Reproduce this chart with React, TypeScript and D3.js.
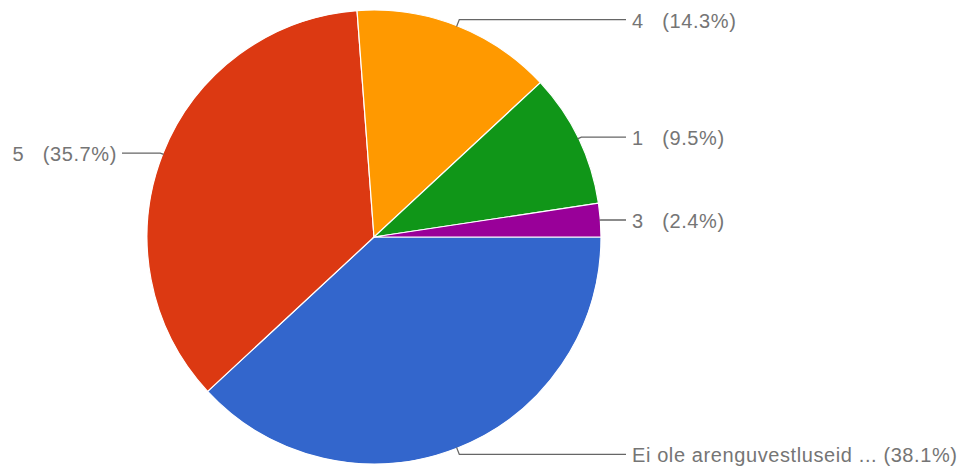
import React, { useEffect, useRef } from 'react';
import * as d3 from 'd3';

// survey answers, in the order the slices are drawn (clockwise from 3 o'clock)
const categories = ['Ei ole arenguvestluseid ...', '5', '4', '1', '3'];
const counts = [16, 15, 6, 4, 1];
const colors = ['#3366cc', '#dc3912', '#ff9900', '#109618', '#990099'];

const WIDTH = 972;
const HEIGHT = 472;

const App: React.FC = () => {
  const svgRef = useRef<SVGSVGElement>(null);

  useEffect(() => {
    if (!svgRef.current) return;
    const svg = d3.select(svgRef.current);
    svg.selectAll('*').remove();

    const cx = 374;
    const cy = 237;
    const r = 227;
    const total = d3.sum(counts);

    const pie = d3.pie<number>()
      .sort(null)
      .value(d => d)
      .startAngle(Math.PI / 2)
      .endAngle(Math.PI / 2 + 2 * Math.PI);

    const arcs = pie(counts);
    const arc = d3.arc<d3.PieArcDatum<number>>().innerRadius(0).outerRadius(r);

    const g = svg.append('g').attr('transform', `translate(${cx},${cy})`);

    g.selectAll('path.slice')
      .data(arcs)
      .enter()
      .append('path')
      .attr('class', 'slice')
      .attr('d', arc)
      .attr('fill', (_, i) => colors[i])
      .attr('stroke', '#ffffff')
      .attr('stroke-width', 1.2);

    // leader lines and labels
    const pct = d3.format('.1%');
    const labelGap = 252;

    arcs.forEach((a, i) => {
      const mid = (a.startAngle + a.endAngle) / 2;
      const sx = Math.sin(mid) * (r - 1);
      const sy = -Math.cos(mid) * (r - 1);
      const er = r + 7 * Math.abs(Math.cos(mid));
      const ex = Math.sin(mid) * er;
      const ey = -Math.cos(mid) * er;
      const right = Math.sin(mid) >= 0;
      const lx = right ? labelGap : -labelGap;

      g.append('path')
        .attr('d', d3.line()([[sx, sy], [ex, ey], [lx, ey]]))
        .attr('fill', 'none')
        .attr('stroke', '#666666')
        .attr('stroke-width', 1.3);

      const name = categories[i];
      const sep = name.length > 3 ? ' ' : '   ';
      g.append('text')
        .attr('x', right ? lx + 6 : lx - 5)
        .attr('y', ey + 1)
        .attr('dy', '0.35em')
        .attr('text-anchor', right ? 'start' : 'end')
        .attr('fill', '#757575')
        .style('font-family', '"Liberation Sans", Arial, sans-serif')
        .style('font-size', '20px')
        .style('letter-spacing', '0.6px')
        .style('white-space', 'pre')
        .text(`${name}${sep}(${pct(counts[i] / total)})`);
    });
  }, []);

  return (
    <svg
      ref={svgRef}
      width={WIDTH}
      height={HEIGHT}
      style={{ position: 'absolute', left: 0, top: 0, background: '#ffffff' }}
    />
  );
};

export default App;
